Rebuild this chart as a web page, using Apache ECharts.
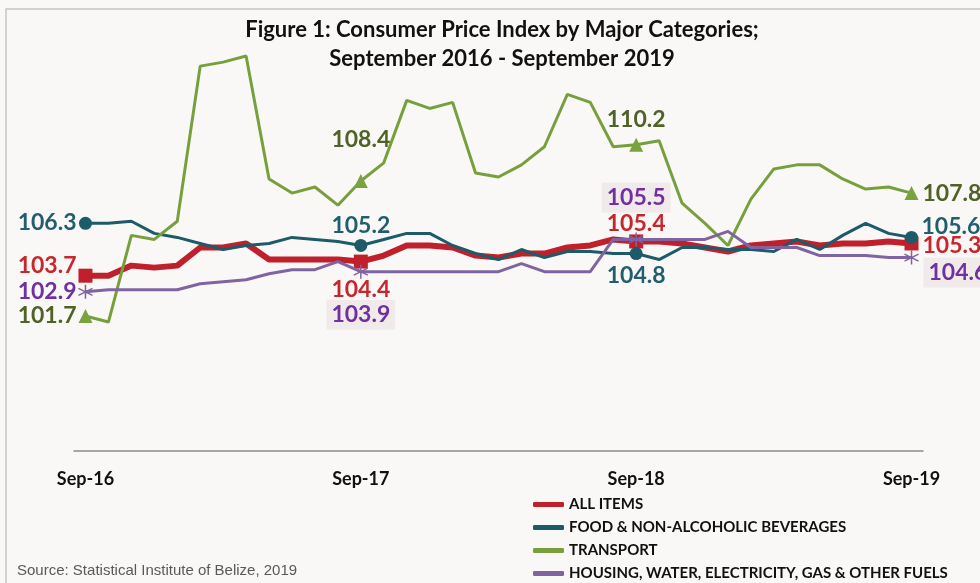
<!DOCTYPE html>
<html>
<head>
<meta charset="utf-8">
<script src="https://cdn.jsdelivr.net/npm/echarts@6/dist/echarts.min.js"></script>
<style>
  html, body { margin: 0; padding: 0; background: #f9f8f6; }
  #chart { width: 980px; height: 583px; }
</style>
</head>
<body>
<div id="chart"></div>
<script>
const months = ['Sep-16','Oct-16','Nov-16','Dec-16','Jan-17','Feb-17','Mar-17','Apr-17','May-17','Jun-17','Jul-17','Aug-17',
  'Sep-17','Oct-17','Nov-17','Dec-17','Jan-18','Feb-18','Mar-18','Apr-18','May-18','Jun-18','Jul-18','Aug-18',
  'Sep-18','Oct-18','Nov-18','Dec-18','Jan-19','Feb-19','Mar-19','Apr-19','May-19','Jun-19','Jul-19','Aug-19','Sep-19']
const tickLabels = ['Sep-16', 'Sep-17', 'Sep-18', 'Sep-19']

const allItems = [103.7, 103.7, 104.2, 104.1, 104.2, 105.1, 105.1, 105.3, 104.5, 104.5, 104.5, 104.5,
  104.4, 104.7, 105.2, 105.2, 105.1, 104.7, 104.6, 104.8, 104.8, 105.1, 105.2, 105.5,
  105.4, 105.4, 105.3, 105.1, 104.9, 105.2, 105.3, 105.4, 105.2, 105.3, 105.3, 105.4, 105.3]
const food = [106.3, 106.3, 106.4, 105.8, 105.6, 105.3, 105.0, 105.2, 105.3, 105.6, 105.5, 105.4,
  105.2, 105.5, 105.8, 105.8, 105.2, 104.8, 104.5, 105.0, 104.6, 104.9, 104.9, 104.8,
  104.8, 104.5, 105.1, 105.1, 105.0, 105.0, 104.9, 105.5, 105.0, 105.7, 106.3, 105.8, 105.6]
const transport = [101.7, 101.4, 105.7, 105.5, 106.4, 114.1, 114.3, 114.6, 108.5, 107.8, 108.1, 107.2,
  108.4, 109.3, 112.4, 112.0, 112.3, 108.8, 108.6, 109.2, 110.1, 112.7, 112.3, 110.1,
  110.2, 110.4, 107.3, 106.3, 105.2, 107.5, 109.0, 109.2, 109.2, 108.5, 108.0, 108.1, 107.8]
const housing = [102.9, 103.0, 103.0, 103.0, 103.0, 103.3, 103.4, 103.5, 103.8, 104.0, 104.0, 104.4,
  103.9, 103.9, 103.9, 103.9, 103.9, 103.9, 103.9, 104.3, 103.9, 103.9, 103.9, 105.5,
  105.5, 105.5, 105.5, 105.5, 105.9, 105.1, 105.1, 105.1, 104.7, 104.7, 104.7, 104.6, 104.6]

const LABEL_FONT = 'Lato, "Open Sans", sans-serif'
const starPath = 'path://M5,0L5,10M0.67,2.5L9.33,7.5M9.33,2.5L0.67,7.5'

// label placement at the marked points: [dx, dy, align]
const seriesDefs = [
  {
    name: 'ALL ITEMS', data: allItems, line: '#c0202b', width: 6, label: '#c8262e',
    symbol: 'rect', size: 14, z: 1,
    marks: { 0: [-9, -10, 'right'], 12: [0, 28, 'center'], 24: [0, -18, 'center'], 36: [11, 2, 'left'] }
  },
  {
    name: 'FOOD & NON-ALCOHOLIC BEVERAGES', data: food, line: '#1e5b69', width: 3, label: '#225f6e',
    symbol: 'circle', size: 13, z: 2,
    marks: { 0: [-9, -1, 'right'], 12: [0, -20, 'center'], 24: [0, 22, 'center'], 36: [10, -11, 'left'] }
  },
  {
    name: 'TRANSPORT', data: transport, line: '#77a03c', width: 3, label: '#4f6228',
    symbol: 'triangle', size: 14, z: 3,
    marks: { 0: [-9, 0, 'right'], 12: [0, -41, 'center'], 24: [0, -25, 'center'], 36: [11, 0, 'left'] }
  },
  {
    name: 'HOUSING, WATER, ELECTRICITY, GAS & OTHER FUELS', data: housing, line: '#8064a2', width: 3, label: '#7030a0',
    symbol: starPath, size: 14, z: 4, boxed: [12, 24, 36],
    marks: { 0: [-9, 0, 'right'], 12: [0, 43, 'center'], 24: [0, -42, 'center'], 36: [12, 15, 'left'] }
  }
]

const buildData = (def) => def.data.map((v, i) => {
  const m = def.marks[i]
  if (!m) return v
  const isStar = def.symbol === starPath
  const boxed = def.boxed && def.boxed.includes(i)
  return {
    value: v,
    symbol: def.symbol,
    symbolSize: def.size,
    itemStyle: isStar
      ? { color: 'transparent', borderColor: def.line, borderWidth: 1.5 }
      : { color: def.name === 'TRANSPORT' ? '#7aa23f' : def.line },
    label: {
      show: true,
      position: 'inside',
      align: m[2],
      verticalAlign: 'middle',
      offset: [m[0], m[1]],
      color: def.label,
      fontFamily: LABEL_FONT,
      fontWeight: 'bold',
      fontSize: 23,
      backgroundColor: boxed ? 'rgba(238,230,230,0.75)' : 'transparent',
      padding: boxed ? [4, 5, 3, 5] : 0
    }
  }
})

const chart = echarts.init(document.getElementById('chart'))

chart.setOption({
  animation: false,
  backgroundColor: '#f9f8f6',
  title: {
    text: 'Figure 1: Consumer Price Index by Major Categories;\nSeptember 2016 - September 2019',
    left: 497,
    top: 10,
    textAlign: 'center',
    textStyle: {
      fontFamily: LABEL_FONT,
      fontWeight: 'bold',
      fontSize: 22,
      lineHeight: 29,
      color: '#111'
    }
  },
  legend: {
    orient: 'vertical',
    left: 528,
    top: 492,
    height: 100,
    itemWidth: 31,
    itemHeight: 5,
    itemGap: 8,
    icon: 'roundRect',
    textStyle: {
      fontFamily: LABEL_FONT,
      fontWeight: 'bold',
      fontSize: 15,
      lineHeight: 15,
      color: '#111'
    },
    data: seriesDefs.map(d => d.name)
  },
  grid: { left: 74, right: 57, top: 48, bottom: 132 },
  xAxis: {
    type: 'category',
    data: months,
    boundaryGap: true,
    axisLine: { onZero: false, lineStyle: { color: '#8a8a8a', width: 1.5 } },
    axisTick: { show: false },
    axisLabel: {
      interval: (idx, val) => tickLabels.includes(val),
      margin: 19,
      color: '#111',
      fontFamily: LABEL_FONT,
      fontWeight: 'bold',
      fontSize: 18
    }
  },
  yAxis: {
    type: 'value',
    min: 95,
    max: 115,
    show: false,
    splitLine: { show: false }
  },
  graphic: [
    {
      type: 'rect',
      shape: { x: 6, y: 9, width: 1100, height: 700 },
      style: { fill: null, stroke: '#c4c4c4', lineWidth: 1.5 },
      silent: true
    },
    {
      type: 'text',
      left: 17,
      top: 563,
      style: {
        text: 'Source: Statistical Institute of Belize, 2019',
        fill: '#595959',
        font: '15px "Liberation Sans", Arial, sans-serif'
      }
    }
  ],
  series: seriesDefs.map(def => ({
    name: def.name,
    type: 'line',
    data: buildData(def),
    z: def.z,
    symbol: 'circle',
    symbolSize: 0,
    showSymbol: true,
    showAllSymbol: true,
    color: def.line,
    lineStyle: { color: def.line, width: def.width },
    itemStyle: { color: def.line },
    emphasis: { disabled: true }
  }))
})
</script>
</body>
</html>
